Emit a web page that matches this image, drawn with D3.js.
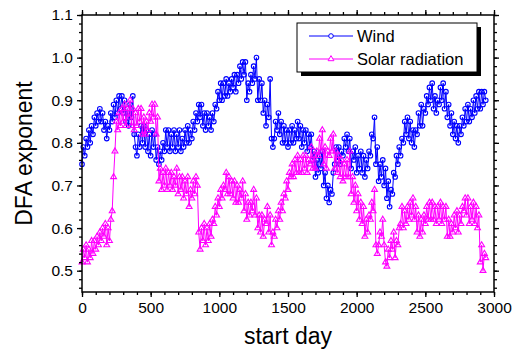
<!DOCTYPE html>
<html><head><meta charset="utf-8">
<script src="https://cdn.jsdelivr.net/npm/d3@7"></script>
<style>body{margin:0;background:#fff}svg{display:block;font-family:"Liberation Sans",Arial,sans-serif}</style>
</head><body><svg id="c" width="514" height="356"></svg>
<script>
const dayStep = 10;
const windValues = [
0.75,0.79,0.77,0.81,0.79,0.83,0.80,0.84,0.82,0.86,
0.84,0.87,0.85,0.88,0.85,0.87,0.83,0.85,0.81,0.84,
0.83,0.87,0.85,0.89,0.86,0.90,0.87,0.91,0.88,0.91,
0.87,0.90,0.85,0.88,0.84,0.89,0.86,0.91,0.82,0.79,
0.77,0.82,0.79,0.84,0.80,0.84,0.79,0.83,0.78,0.82,
0.77,0.83,0.79,0.82,0.76,0.79,0.75,0.78,0.76,0.80,
0.78,0.83,0.79,0.83,0.78,0.82,0.79,0.83,0.78,0.82,
0.79,0.83,0.78,0.81,0.79,0.83,0.80,0.84,0.80,0.83,
0.81,0.85,0.83,0.87,0.85,0.89,0.86,0.89,0.84,0.87,
0.83,0.87,0.84,0.86,0.83,0.87,0.85,0.89,0.88,0.92,
0.90,0.94,0.90,0.94,0.91,0.95,0.91,0.94,0.92,0.95,
0.93,0.96,0.92,0.96,0.94,0.98,0.95,0.99,0.96,0.99,
0.90,0.94,0.92,0.96,0.94,0.98,0.95,1.00,0.90,0.95,
0.90,0.94,0.87,0.90,0.84,0.89,0.86,0.95,0.81,0.79,
0.81,0.85,0.83,0.87,0.82,0.85,0.80,0.84,0.80,0.83,
0.79,0.83,0.80,0.84,0.80,0.83,0.81,0.85,0.81,0.84,
0.79,0.83,0.80,0.83,0.78,0.82,0.79,0.82,0.76,0.78,
0.72,0.76,0.73,0.77,0.74,0.78,0.70,0.73,0.67,0.70,
0.66,0.69,0.68,0.73,0.75,0.79,0.76,0.79,0.75,0.78,
0.77,0.81,0.79,0.82,0.78,0.81,0.74,0.78,0.76,0.79,
0.73,0.77,0.74,0.78,0.73,0.77,0.72,0.76,0.74,0.78,
0.77,0.82,0.81,0.86,0.75,0.79,0.71,0.75,0.72,0.76,
0.70,0.74,0.67,0.71,0.65,0.69,0.68,0.73,0.72,0.77,
0.75,0.79,0.77,0.81,0.80,0.85,0.82,0.86,0.81,0.85,
0.80,0.83,0.79,0.83,0.82,0.87,0.84,0.89,0.84,0.88,
0.87,0.91,0.89,0.93,0.90,0.94,0.88,0.91,0.87,0.90,
0.89,0.93,0.90,0.94,0.88,0.92,0.86,0.89,0.84,0.87,
0.82,0.85,0.81,0.84,0.80,0.84,0.82,0.86,0.84,0.88,
0.85,0.89,0.85,0.88,0.86,0.90,0.87,0.91,0.88,0.92,
0.88,0.92,0.89,0.92,0.90];
const solarValues = [
0.52,0.55,0.53,0.56,0.52,0.55,0.53,0.57,0.54,0.57,
0.55,0.58,0.56,0.59,0.57,0.60,0.58,0.61,0.56,0.60,
0.57,0.62,0.64,0.72,0.78,0.85,0.83,0.87,0.84,0.88,
0.85,0.89,0.84,0.88,0.86,0.90,0.84,0.88,0.83,0.87,
0.84,0.88,0.85,0.88,0.82,0.86,0.82,0.85,0.83,0.87,
0.85,0.89,0.86,0.89,0.82,0.86,0.71,0.74,0.69,0.73,
0.70,0.74,0.69,0.73,0.70,0.73,0.69,0.72,0.70,0.74,
0.68,0.72,0.69,0.72,0.67,0.71,0.68,0.72,0.65,0.69,
0.67,0.71,0.68,0.72,0.70,0.59,0.55,0.60,0.57,0.61,
0.56,0.60,0.57,0.61,0.58,0.62,0.61,0.65,0.63,0.67,
0.65,0.69,0.67,0.70,0.69,0.73,0.68,0.72,0.68,0.71,
0.67,0.71,0.66,0.70,0.66,0.69,0.67,0.71,0.64,0.68,
0.62,0.66,0.63,0.66,0.64,0.69,0.63,0.67,0.60,0.63,
0.59,0.63,0.58,0.62,0.61,0.65,0.59,0.63,0.56,0.59,
0.58,0.62,0.60,0.64,0.62,0.66,0.64,0.68,0.67,0.71,
0.69,0.73,0.72,0.75,0.72,0.76,0.73,0.77,0.73,0.76,
0.73,0.77,0.74,0.77,0.73,0.76,0.75,0.79,0.74,0.77,
0.74,0.78,0.77,0.81,0.78,0.83,0.75,0.79,0.74,0.78,
0.77,0.81,0.78,0.82,0.74,0.78,0.73,0.77,0.72,0.76,
0.71,0.75,0.72,0.76,0.72,0.78,0.68,0.72,0.66,0.70,
0.64,0.68,0.62,0.66,0.61,0.65,0.58,0.62,0.59,0.63,
0.62,0.66,0.64,0.69,0.56,0.54,0.56,0.59,0.58,0.62,
0.56,0.52,0.51,0.55,0.53,0.57,0.55,0.59,0.53,0.57,
0.56,0.60,0.61,0.65,0.60,0.64,0.61,0.65,0.62,0.66,
0.63,0.67,0.62,0.65,0.59,0.63,0.58,0.62,0.59,0.63,
0.61,0.65,0.62,0.66,0.62,0.66,0.62,0.65,0.61,0.65,
0.62,0.66,0.61,0.65,0.62,0.65,0.58,0.62,0.58,0.61,
0.59,0.63,0.60,0.64,0.59,0.63,0.61,0.65,0.64,0.67,
0.63,0.67,0.61,0.65,0.62,0.66,0.61,0.65,0.60,0.63,
0.52,0.56,0.50,0.54,0.53];
const xTicks = [0,500,1000,1500,2000,2500,3000];
const yTicks = [0.5,0.6,0.7,0.8,0.9,1.0,1.1];
const seriesNames = ["Wind","Solar radiation"];
const seriesColors = ["#0000ff","#ff00ff"];

const svg = d3.select("#c");
const L=82,R=494,T=15,B=292;
const x = d3.scaleLinear().domain([0,3000]).range([L,R]);
const y = d3.scaleLinear().domain([0.45,1.1]).range([B,T]);

function series(vals){return vals.map((v,i)=>({d:i*dayStep,v}));}
const data=[series(windValues),series(solarValues)];

const line=d3.line().x(p=>x(p.d)).y(p=>y(p.v));
const g=svg.append("g");
g.append("path").datum(data[0]).attr("d",line).attr("fill","none").attr("stroke",seriesColors[0]).attr("stroke-width",1);
g.selectAll(".w").data(data[0]).join("circle").attr("cx",p=>x(p.d)).attr("cy",p=>y(p.v)).attr("r",2.3)
 .attr("fill","none").attr("stroke",seriesColors[0]).attr("stroke-width",1.1);
const tri=d3.symbol().type(d3.symbolTriangle).size(15);
g.append("path").datum(data[1]).attr("d",line).attr("fill","none").attr("stroke",seriesColors[1]).attr("stroke-width",1);
g.selectAll(".s").data(data[1]).join("path").attr("d",tri).attr("transform",p=>`translate(${x(p.d)},${y(p.v)})`)
 .attr("fill","none").attr("stroke",seriesColors[1]).attr("stroke-width",1.1);

const minorX=d3.range(0,3001,100), minorY=d3.range(0.46,1.101,0.02);
function axisStyle(sel){sel.select(".domain").remove();sel.selectAll("line").attr("stroke","#000").attr("stroke-width",1.3);sel.selectAll("text").attr("fill","#000");}
svg.append("g").attr("transform",`translate(0,${B})`).call(d3.axisBottom(x).tickValues(minorX).tickSize(3).tickFormat("")).call(axisStyle);
svg.append("g").attr("transform",`translate(0,${B})`).call(d3.axisBottom(x).tickValues(xTicks).tickSize(5).tickPadding(5).tickFormat(d3.format("d")))
 .call(axisStyle).selectAll("text").attr("font-size","15.5px").attr("font-family","Liberation Sans, Arial");
svg.append("g").attr("transform",`translate(0,${T})`).call(d3.axisTop(x).tickValues(minorX).tickSize(3).tickFormat("")).call(axisStyle);
svg.append("g").attr("transform",`translate(0,${T})`).call(d3.axisTop(x).tickValues(xTicks).tickSize(5).tickFormat("")).call(axisStyle);
svg.append("g").attr("transform",`translate(${L},0)`).call(d3.axisLeft(y).tickValues(minorY).tickSize(3).tickFormat("")).call(axisStyle);
svg.append("g").attr("transform",`translate(${L},0)`).call(d3.axisLeft(y).tickValues(yTicks).tickSize(5).tickPadding(4).tickFormat(d3.format(".1f")))
 .call(axisStyle).selectAll("text").attr("font-size","15.5px").attr("font-family","Liberation Sans, Arial");
svg.append("g").attr("transform",`translate(${R},0)`).call(d3.axisRight(y).tickValues(minorY).tickSize(3).tickFormat("")).call(axisStyle);
svg.append("g").attr("transform",`translate(${R},0)`).call(d3.axisRight(y).tickValues(yTicks).tickSize(5).tickFormat("")).call(axisStyle);
svg.append("rect").attr("x",L).attr("y",T).attr("width",R-L).attr("height",B-T).attr("fill","none").attr("stroke","#000").attr("stroke-width",1.5);

svg.append("text").attr("x",(L+R)/2).attr("y",344).attr("text-anchor","middle").attr("font-size","23px").text("start day");
svg.append("text").attr("transform",`translate(32,${(T+B)/2}) rotate(-90)`).attr("text-anchor","middle").attr("font-size","23px").text("DFA exponent");

const lg=svg.append("g");
lg.append("rect").attr("x",301).attr("y",27).attr("width",180).attr("height",49).attr("fill","#000");
lg.append("rect").attr("x",297).attr("y",23).attr("width",180).attr("height",49).attr("fill","#fff").attr("stroke","#000").attr("stroke-width",1);
const ly=[36,59];
seriesNames.forEach((n,i)=>{
  lg.append("line").attr("x1",309).attr("x2",353).attr("y1",ly[i]).attr("y2",ly[i]).attr("stroke",seriesColors[i]).attr("stroke-width",1);
  if(i===0) lg.append("circle").attr("cx",331).attr("cy",ly[i]).attr("r",2.3).attr("fill","#fff").attr("stroke",seriesColors[i]);
  else lg.append("path").attr("d",tri).attr("transform",`translate(331,${ly[i]})`).attr("fill","#fff").attr("stroke",seriesColors[i]);
  lg.append("text").attr("x",357).attr("y",ly[i]+6).attr("font-size","16.5px").text(n);
});
</script></body></html>
